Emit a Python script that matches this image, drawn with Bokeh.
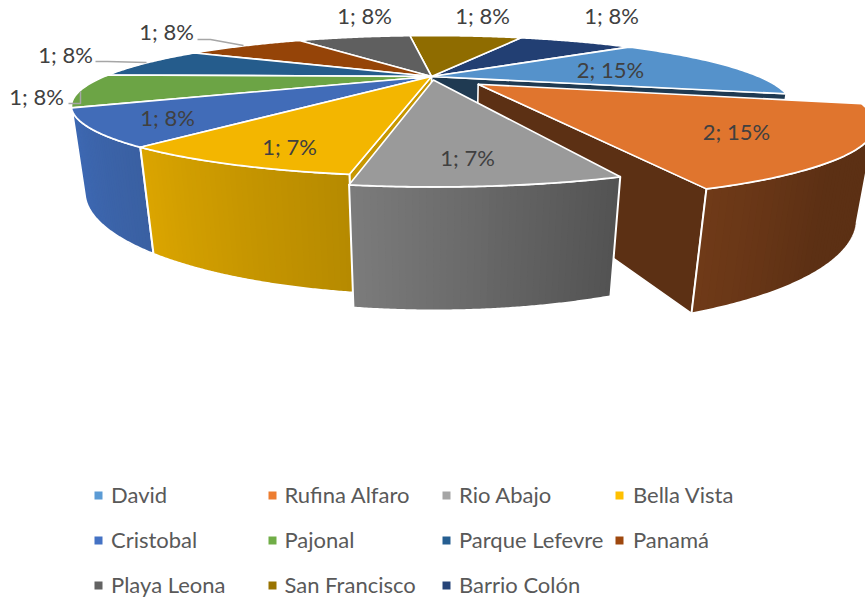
import numpy as np
from bokeh.plotting import figure
from bokeh.models import Range1d
from bokeh.core.properties import value
from bokeh.embed import file_html
from bokeh.resources import INLINE

# ---- data ----
categories = ["David", "Rufina Alfaro", "Rio Abajo", "Bella Vista", "Cristobal", "Pajonal",
              "Parque Lefevre", "Panamá", "Playa Leona", "San Francisco", "Barrio Colón"]
values = [2, 2, 1, 1, 1, 1, 1, 1, 1, 1, 1]
percent_labels = [15, 15, 7, 7, 8, 8, 8, 8, 8, 8, 8]

# ---- styles ----
legend_colors = ["#5b9bd5", "#ed7d31", "#a5a5a5", "#ffc000", "#4472c4", "#70ad47",
                 "#255e91", "#9e480e", "#636363", "#997300", "#264478"]
top_colors = ["#5592cb", "#e0752e", "#9a9a9a", "#f3b600", "#416cb8", "#6ca445",
              "#255c8c", "#954408", "#5f5f5f", "#8f6c00", "#223f73"]
explode = [0, 0.185, 0.06, 0, 0, 0, 0, 0, 0, 0, 0]
rim_grad = {1: ("#703a18", "#5c3014", 0.45), 2: ("#7c7c7c", "#525252", 1.0),
            3: ("#dba500", "#b68a00", 1.0), 4: ("#3e6ab6", "#3a60a2", 1.0)}
cut_colors = {0: "#1f3a52", 1: "#5c3014", 3: "#c79700"}

# ---- projection of the disc (all in picture pixels) ----
FIRST_ANGLE = 50.0
CX, CY, RX, RY, K = 431.0, 76.0, 327.0, 58.0, 0.418
VPX, VPY, M = 430.0, 2490.0, 0.0316


def project(theta, r, e, mid, depth):
    x = r * np.sin(theta) + e * np.sin(mid)
    y = r * np.cos(theta) + e * np.cos(mid)
    w = 1 + K * y
    u = CX + RX * x / w
    v = CY - RY * y / w
    if depth:
        t = M / (w + M)
        u = u + t * (VPX - u)
        v = v + t * (VPY - v)
    return u, v


total = sum(values)
edges = np.radians(FIRST_ANGLE + 360.0 * np.concatenate([[0], np.cumsum(values)]) / total)

p = figure(width=865, height=600, x_range=Range1d(0, 865), y_range=Range1d(600, 0),
           output_backend="svg", toolbar_location=None, min_border=0,
           background_fill_color="white", outline_line_color=None)
p.axis.visible = False
p.grid.visible = False


def poly(xs, ys, fill, line="white", width=1.6):
    p.patch(list(xs), list(ys), fill_color=fill, line_color=line, line_width=width, line_join="round")


def top(i):
    a, b = edges[i], edges[i + 1]
    mid = (a + b) / 2
    th = np.linspace(a, b, 60)
    u, v = project(th, 1.0, explode[i], mid, False)
    cu, cv = project(np.array([0.0]), 0.0, explode[i], mid, False)
    poly(np.r_[cu, u], np.r_[cv, v], top_colors[i])


def cut(i, at):
    a, b = edges[i], edges[i + 1]
    mid = (a + b) / 2
    th = np.array([at])
    u1, v1 = project(th, 1.0, explode[i], mid, False)
    u2, v2 = project(th, 1.0, explode[i], mid, True)
    c1, d1 = project(th, 0.0, explode[i], mid, False)
    c2, d2 = project(th, 0.0, explode[i], mid, True)
    poly([c1[0], u1[0], u2[0], c2[0]], [d1[0], v1[0], v2[0], d2[0]], cut_colors[i])


def mix(c1, c2, f):
    a = [int(c1[j:j + 2], 16) for j in (1, 3, 5)]
    b = [int(c2[j:j + 2], 16) for j in (1, 3, 5)]
    return "#%02x%02x%02x" % tuple(round(a[k] + (b[k] - a[k]) * f) for k in range(3))


def rim(i):
    a, b = edges[i], edges[i + 1]
    mid = (a + b) / 2
    th = np.linspace(b, a, 121)   # left to right on the front of the disc
    ut, vt = project(th, 1.0, explode[i], mid, False)
    ub, vb = project(th, 1.0, explode[i], mid, True)
    # only the part of the rim that faces the viewer
    last = int(np.argmax(ut))
    first = int(np.argmin(ut))
    ut, vt, ub, vb = ut[first:last + 1], vt[first:last + 1], ub[first:last + 1], vb[first:last + 1]
    n = len(ut) - 1
    steps = 40
    c1, c2, span = rim_grad[i]
    for s in range(steps):
        k = int(n * s / steps)
        col = mix(c1, c2, min(1.0, (s + 0.5) / steps / span))
        p.patch(list(np.r_[ut[k:], ub[k:][::-1]]), list(np.r_[vt[k:], vb[k:][::-1]]),
                fill_color=col, line_color=None)
    p.patch(list(np.r_[ut, ub[::-1]]), list(np.r_[vt, vb[::-1]]), fill_alpha=0,
            line_color="white", line_width=2.0, line_join="round")


# back of the pie first, the exploded slices last
cut(0, edges[1])
for i in [10, 9, 8, 7, 6, 5, 0]:
    top(i)
cut(1, edges[2])
rim(1)
top(1)
rim(4)
top(4)
cut(3, edges[3])
rim(3)
top(3)
rim(2)
top(2)

# ---- data labels ----
label_x = [610, 736, 467, 289, 167, 36, 65, 166, 364, 482, 611]
label_y = [69, 131, 157, 146, 117, 96, 54, 31, 15, 15, 15]
labels = [f"{v}; {q}%" for v, q in zip(values, percent_labels)]
p.text(label_x, label_y, text=labels, text_font=value("Lato"), text_font_size=value("22px"),
       text_color="#404040", text_align="center", text_baseline="middle")

leader_x = [[68, 80, 80], [95, 107, 146], [197, 210, 243]]
leader_y = [[103, 103, 91], [61, 61, 62], [39, 39, 45]]
p.multi_line(leader_x, leader_y, line_color="#a6a6a6", line_width=1.5)

# ---- legend ----
col_sq = [98, 272, 446, 619]
col_tx = [110.5, 284, 458.5, 632.5]
row_y = [495, 540, 585]
text_y = [493.5, 538.5, 583.5]
lx, ly, tx, ty = [], [], [], []
for i in range(len(categories)):
    c, r = i % 4, i // 4
    lx.append(col_sq[c]); ly.append(row_y[r]); tx.append(col_tx[c]); ty.append(text_y[r])
p.rect(lx, ly, width=8, height=8, fill_color=legend_colors, line_color=None)
p.text(tx, ty, text=categories, text_font=value("Lato"), text_font_size=value("22px"),
       text_color="#595959", text_align="left", text_baseline="middle")

open("out.html", "w").write(file_html(p, INLINE))
